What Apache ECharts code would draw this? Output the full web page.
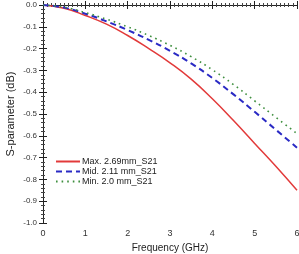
<!DOCTYPE html>
<html>
<head>
<meta charset="utf-8">
<script src="https://cdn.jsdelivr.net/npm/echarts@6/dist/echarts.min.js"></script>
<style>
  html, body { margin: 0; padding: 0; background: #fff; }
  #chart { width: 299px; height: 254px; }
</style>
</head>
<body>
<div id="chart"></div>
<script>
// frequency points (GHz) and S21 readings (dB)
const freq = [0, 0.5, 1, 1.5, 2, 2.5, 3, 3.5, 4, 4.5, 5, 5.5, 6]
const maxS21 = [0, -0.015, -0.048, -0.088, -0.14, -0.2, -0.265, -0.34, -0.43, -0.53, -0.635, -0.74, -0.85]
const midS21 = [0, -0.012, -0.04, -0.075, -0.115, -0.16, -0.21, -0.268, -0.335, -0.41, -0.49, -0.572, -0.655]
const minS21 = [0, -0.01, -0.035, -0.065, -0.1, -0.14, -0.185, -0.237, -0.297, -0.365, -0.44, -0.515, -0.59]
const seriesNames = ['Max. 2.69mm_S21', 'Mid. 2.11 mm_S21', 'Min. 2.0 mm_S21']

const pairs = vals => freq.map((f, i) => [f, vals[i]])

let myCharts = echarts.init(document.getElementById('chart'))

const font = 'Liberation Sans, Arial, sans-serif'
const axisLine = { show: true, lineStyle: { color: '#222', width: 1 } }
const tick = { show: true, inside: true, length: 4, lineStyle: { color: '#222' } }
const minor = (n) => ({ show: true, splitNumber: n, length: 2, lineStyle: { color: '#444' } })

let option = {
    animation: false,
    grid: { left: 43, right: 2, top: 5, bottom: 31, outerBoundsMode: 'none' },
    legend: {
        orient: 'vertical',
        left: 50,
        top: 152,
        itemWidth: 24,
        itemHeight: 8,
        itemGap: 1,
        itemStyle: { opacity: 0 },
        textStyle: { fontFamily: font, fontSize: 9, color: '#222', padding: [0, 0, 0, -3] },
        data: seriesNames
    },
    xAxis: [
        {
            type: 'value', min: 0, max: 6, interval: 1,
            axisLine, axisTick: tick, minorTick: minor(10),
            splitLine: { show: false },
            axisLabel: { fontFamily: font, fontSize: 9, color: '#333', margin: 6 },
            name: 'Frequency (GHz)', nameLocation: 'middle', nameGap: 19,
            nameTextStyle: { fontFamily: font, fontSize: 10, color: '#222' }
        },
        {
            type: 'value', min: 0, max: 6, interval: 1, position: 'top',
            axisLine, axisTick: tick, minorTick: minor(10),
            splitLine: { show: false }, axisLabel: { show: false }
        }
    ],
    yAxis: [
        {
            type: 'value', min: -1, max: 0, interval: 0.1,
            axisLine, axisTick: tick, minorTick: minor(5),
            splitLine: { show: false },
            axisLabel: { fontFamily: font, fontSize: 8, color: '#333', margin: 6,
                formatter: v => v.toFixed(1) },
            name: 'S-parameter (dB)', nameLocation: 'middle', nameGap: 27,
            nameMoveOverlap: false,
            nameTextStyle: { fontFamily: font, fontSize: 11, color: '#222' }
        },
        {
            type: 'value', min: -1, max: 0, interval: 0.1, position: 'right',
            axisLine, axisTick: tick, minorTick: minor(5),
            splitLine: { show: false }, axisLabel: { show: false }
        }
    ],
    series: [
        {
            name: seriesNames[0], type: 'line', smooth: 0.5, symbol: 'none',
            lineStyle: { color: '#e23a3a', width: 1.5, type: 'solid' },
            itemStyle: { color: '#e23a3a' },
            data: pairs(maxS21)
        },
        {
            name: seriesNames[1], type: 'line', smooth: 0.5, symbol: 'none',
            lineStyle: { color: '#2a2ac4', width: 2, type: [6, 4] },
            itemStyle: { color: '#2a2ac4' },
            data: pairs(midS21)
        },
        {
            name: seriesNames[2], type: 'line', smooth: 0.5, symbol: 'none',
            lineStyle: { color: '#3f8f3f', width: 1.6, type: [1.6, 4] },
            itemStyle: { color: '#3f8f3f' },
            data: pairs(minS21)
        }
    ]
}

myCharts.setOption(option)
</script>
</body>
</html>
